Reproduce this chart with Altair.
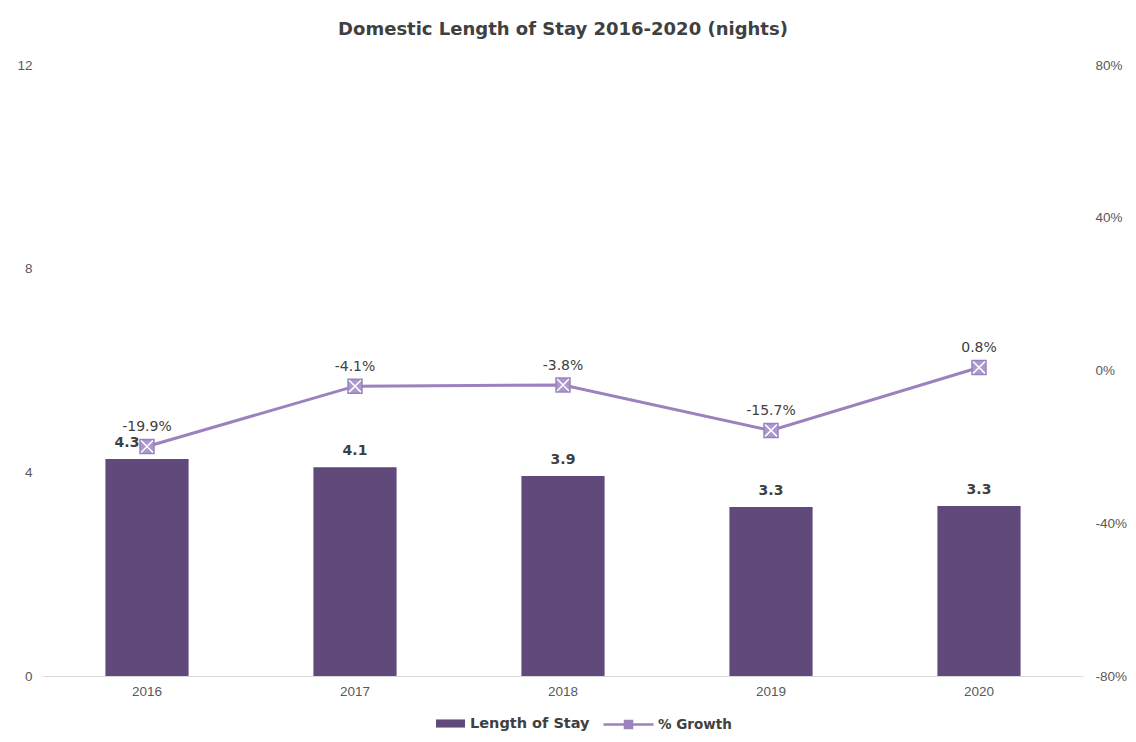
import altair as alt
import pandas as pd

years = ["2016", "2017", "2018", "2019", "2020"]
length_of_stay = [4.26, 4.10, 3.93, 3.32, 3.34]
growth = [-0.199, -0.041, -0.038, -0.157, 0.008]
bar_series = "Length of Stay"
line_series = "% Growth"

df = pd.DataFrame({
    "year": years,
    "los": length_of_stay,
    "growth": growth,
    "s1": [bar_series] * len(years),
    "s2": [line_series] * len(years),
})

BAR = "#604a7b"
LINE = "#9c82bc"
MFILL = "#ab98cd"
TXT = "#404040"
AX = "#595959"
FONT = "DejaVu Sans"
AXFONT = "Liberation Sans"
HYPHEN = "replace(datum.label, '\u2212', '-')"

x = alt.X("year:N", sort=years, title=None,
          scale=alt.Scale(paddingInner=0.6, paddingOuter=0.3),
          axis=alt.Axis(labelAngle=0, ticks=False, domainColor="#d9d9d9",
                        labelColor=AX, labelFont=AXFONT, labelFontSize=13.5,
                        labelPadding=8, grid=False))

yl = alt.Y("los:Q", title=None,
           scale=alt.Scale(domain=[0, 12], nice=False),
           axis=alt.Axis(values=[0, 4, 8, 12], domain=False, ticks=False, grid=False,
                         labelColor=AX, labelFont=AXFONT, labelFontSize=13.5, labelPadding=11))

yr_scale = alt.Scale(domain=[-0.8, 0.8], nice=False)

bars = alt.Chart(df).mark_bar(color=BAR).encode(
    x=x, y=yl,
    color=alt.Color("s1:N", scale=alt.Scale(domain=[bar_series], range=[BAR]),
                    legend=alt.Legend(title=None, orient="none", legendX=393, legendY=644,
                                      symbolType="M-1,-0.28H1V0.28H-1Z", symbolSize=841,
                                      symbolStrokeWidth=0, labelOffset=5,
                                      labelFont=FONT, labelFontSize=14.5, labelFontWeight="bold",
                                      labelColor=TXT, padding=0)),
)

bar_lab = alt.Chart(df).mark_text(font=FONT, fontSize=14, fontWeight="bold", color=TXT,
                                  baseline="alphabetic", dy=-12).encode(
    x=alt.X("year:N", sort=years), y=alt.Y("los:Q"),
    text=alt.Text("los:Q", format=".1f"),
).transform_filter(alt.datum.year != "2016")

bar_lab16 = alt.Chart(df).mark_text(font=FONT, fontSize=14, fontWeight="bold", color=TXT,
                                    baseline="alphabetic", dy=-12, dx=-20).encode(
    x=alt.X("year:N", sort=years), y=alt.Y("los:Q"),
    text=alt.Text("los:Q", format=".1f"),
).transform_filter(alt.datum.year == "2016")

left = alt.layer(bars, bar_lab, bar_lab16)

yr = alt.Y("growth:Q", title=None, scale=yr_scale,
           axis=alt.Axis(orient="right", values=[-0.8, -0.4, 0, 0.4, 0.8], format=".0%",
                         labelExpr=HYPHEN,
                         domain=False, ticks=False, grid=False,
                         labelColor=AX, labelFont=AXFONT, labelFontSize=13.5, labelPadding=12))

line = alt.Chart(df).mark_line(strokeWidth=3).encode(
    x=alt.X("year:N", sort=years), y=yr,
    stroke=alt.Stroke("s2:N", scale=alt.Scale(domain=[line_series], range=[LINE]),
                      legend=alt.Legend(title=None, orient="none", legendX=559, legendY=633,
                                        symbolType=("M-1,0H-0.14M0.14,0H1"
                                                    "M-0.14,-0.14H0.14V0.14H-0.14Z"
                                                    "M-0.14,-0.14L0.14,0.14M-0.14,0.14L0.14,-0.14"),
                                        symbolSize=2500, symbolStrokeWidth=2.5,
                                        symbolFillColor=MFILL, symbolStrokeColor=LINE,
                                        labelOffset=3, labelFont=FONT, labelFontSize=13.5,
                                        labelFontWeight="bold", labelColor=TXT, padding=0)),
)

pts = alt.Chart(df).mark_point(shape="square", size=196, filled=True, fill=MFILL,
                               stroke=LINE, strokeWidth=1.5, opacity=1).encode(
    x=alt.X("year:N", sort=years), y=alt.Y("growth:Q", scale=yr_scale),
)

xs = alt.Chart(df).mark_point(shape="M-0.85,-0.85L0.85,0.85M-0.85,0.85L0.85,-0.85",
                              size=196, filled=False, stroke="white", strokeWidth=1.5,
                              opacity=1).encode(
    x=alt.X("year:N", sort=years), y=alt.Y("growth:Q", scale=yr_scale),
)

g_lab = alt.Chart(df).transform_calculate(
    glabel="replace(format(datum.growth, '.1%'), '\u2212', '-')"
).mark_text(font=FONT, fontSize=14, color=TXT, baseline="alphabetic", dy=-15).encode(
    x=alt.X("year:N", sort=years), y=alt.Y("growth:Q", scale=yr_scale),
    text=alt.Text("glabel:N"),
)

right = alt.layer(line, pts, xs, g_lab)

chart = alt.layer(left, right).resolve_scale(y="independent").properties(
    width=1040, height=611,
    autosize=alt.AutoSizeParams(type="none"),
    padding={"left": 35, "top": 57, "right": 45, "bottom": 58},
    background="white",
    title=alt.Title("Domestic Length of Stay 2016-2020 (nights)", font=FONT, fontSize=18,
                    fontWeight="bold", color=TXT, anchor="middle", offset=19),
).configure_view(strokeWidth=0, stroke="transparent")

chart.save("out.html", embed_options={"renderer": "svg", "actions": False})
